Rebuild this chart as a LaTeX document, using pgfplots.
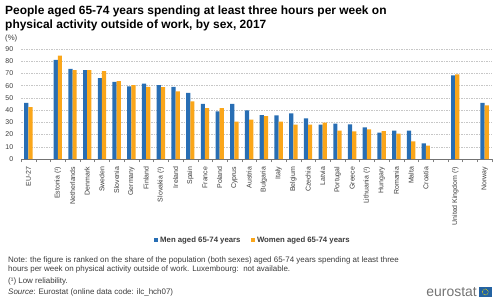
\documentclass[border=0pt]{standalone}
\usepackage{pgfplots}
\pgfplotsset{compat=1.18}
\usepackage{pgfplotstable}
\usepackage{fontspec}
\setmainfont{Liberation Sans}
\definecolor{esblue}{RGB}{40,110,180}
\definecolor{esorange}{RGB}{250,166,26}
\definecolor{txtgray}{RGB}{60,60,60}

\pgfplotstableread{
x men women
0 46.0 42.5
2 81.2 84.5
3 73.8 72.8
4 72.8 72.8
5 66.2 72.0
6 63.2 63.8
7 59.4 60.5
8 61.6 59.1
9 60.5 58.9
10 59.1 55.3
11 54.2 47.1
12 45.2 41.7
13 39.0 41.7
14 45.2 30.5
15 39.8 32.2
16 36.0 35.1
17 35.7 30.5
18 37.3 28.1
19 33.2 28.1
20 28.1 29.7
21 28.9 23.2
22 28.3 22.6
23 25.9 24.3
24 21.5 22.9
25 23.2 20.7
26 23.2 14.4
27 12.8 10.9
29 68.4 69.2
31 46.0 43.9
}\datatable

\begin{document}
\begin{tikzpicture}[x=1bp,y=1bp]
\path[use as bounding box] (0,0) rectangle (500,300);
\begin{axis}[
  at={(21bp,141bp)}, anchor=south west,
  scale only axis, width=471bp, height=110bp,
  xmin=-0.5, xmax=31.5, ymin=0, ymax=90,
  ybar=0pt, bar width=4.2bp,
  axis x line*=bottom, axis y line*=left,
  x axis line style={-, draw=black!55},
  y axis line style={draw=none},
  xtick={0,2,3,...,27,29,31},
  xticklabels={EU-27,Estonia (¹),Netherlands,Denmark,Sweden,Slovenia,Germany,Finland,Slovakia (¹),Ireland,Spain,France,Poland,Cyprus,Austria,Bulgaria,Italy,Belgium,Czechia,Latvia,Portugal,Greece,Lithuania (¹),Hungary,Romania,Malta,Croatia,United Kingdom (¹),Norway},
  minor xtick={-0.5,0.5,...,31.5},
  xtick style={draw=none},
  minor x tick style={draw=black!50},
  minor tick length=3bp,
  tick align=outside,
  ytick={0,10,...,90},
  ytick style={draw=none},
  ymajorgrids,
  grid style={dash pattern=on 1.5bp off 1bp, black!22},
  /pgf/number format/assume math mode=true,
  tick label style={font=\fontsize{7}{8}\selectfont, text=txtgray},
  xticklabel style={rotate=90, anchor=east},
  legend style={at={(axis description cs:0.492,-0.736)}, anchor=center, draw=none,
    font=\fontsize{7.8}{9}\selectfont\bfseries, text=txtgray,
    /tikz/every even column/.append style={column sep=8bp}},
  legend columns=2,
  legend image code/.code={\path[#1,draw=none] (0bp,-2.2bp) rectangle (4.5bp,2.2bp);},
]
\addplot[fill=esblue, draw=none] table[x=x, y=men] {\datatable};
\addlegendentry{Men aged 65-74 years}
\addplot[fill=esorange, draw=none] table[x=x, y=women] {\datatable};
\addlegendentry{Women aged 65-74 years}
\end{axis}
\node[anchor=north west, align=left, inner sep=0, font=\fontsize{12}{14}\selectfont\bfseries] at (5,294.5)
  {People aged 65-74 years spending at least three hours per week on\\physical activity outside of work, by sex, 2017};
\node[anchor=west, inner sep=0, font=\fontsize{7.8}{9}\selectfont, text=txtgray] at (5,262) {(\%)};
\begin{scope}[every node/.style={anchor=base west, inner sep=0, font=\fontsize{8}{9}\selectfont, text=txtgray}]
\node at (8,38) {Note: the figure is ranked on the share of the population (both sexes) aged 65-74 years spending at least three};
\node at (8,28.5) {hours per week on physical activity outside of work. Luxembourg:\ \ not available.};
\node at (8,17) {(¹) Low reliability.};
\node at (8,6) {\textit{Source}: Eurostat (online data code: ilc\_hch07)};
\end{scope}
\node[anchor=base east, inner sep=0, font=\fontsize{14}{15}\selectfont, text=black!55] at (477,4) {eurostat};
\fill[esblue!90!black] (478.5,3) rectangle (492,13);
\draw[yellow!90!orange, line width=0.6bp, dash pattern=on 0.6bp off 0.8bp] (485.25,8) circle (3bp);
\end{tikzpicture}
\end{document}
